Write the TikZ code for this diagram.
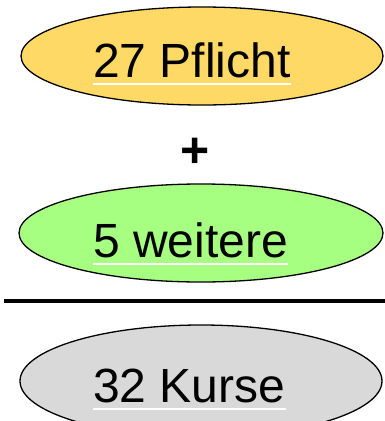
\documentclass[tikz,border=0pt]{standalone}
\usepackage{fontspec}
\setmainfont{Liberation Sans}
\definecolor{cyellow}{RGB}{255,217,102}
\definecolor{cgreen}{RGB}{166,255,128}
\definecolor{cgray}{RGB}{217,217,217}
\begin{document}
\begin{tikzpicture}[x=1pt,y=1pt,
  oval/.style={draw=black,line width=1.3pt},
  lbl/.style={anchor=base west,inner sep=0pt,font=\fontsize{48}{52}\selectfont},
  uline/.style={draw=white,line width=2pt}]
\useasboundingbox (0,0) rectangle (385,-421);
\clip (0,0) rectangle (385,-421);
\filldraw[oval,fill=cyellow] (202,-56) ellipse [x radius=181,y radius=49];
\filldraw[oval,fill=cgreen] (201,-233) ellipse [x radius=182,y radius=49];
\filldraw[oval,fill=cgray] (201,-381) ellipse [x radius=181,y radius=56];
\node[lbl] (t1) at (93,-77) {27 Pflicht};
\node[lbl] (t2) at (93,-257) {5 weitere};
\node[lbl] (t3) at (93,-402) {32 Kurse};
\draw[uline] ([yshift=-7pt]t1.base west) -- ([yshift=-7pt]t1.base east);
\draw[uline] ([yshift=-7pt]t2.base west) -- ([yshift=-7pt]t2.base east);
\draw[uline] ([yshift=-7pt]t3.base west) -- ([yshift=-7pt]t3.base east);
\node[inner sep=0pt,font=\fontsize{50}{54}\selectfont\bfseries] (plus) at (195,-153) {+};
\draw[line width=4pt] (4,-301) -- (385,-301);
\end{tikzpicture}
\end{document}
